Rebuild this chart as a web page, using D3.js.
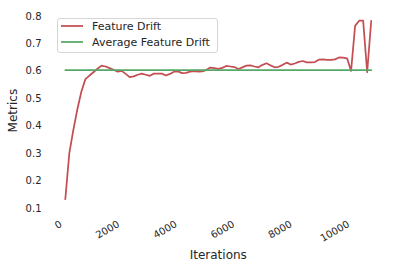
<!DOCTYPE html>
<html>
<head>
<meta charset="utf-8">
<script src="https://d3js.org/d3.v7.min.js"></script>
<style>
    body { margin: 0; background: #fff; }
    text { font-family: "DejaVu Sans", sans-serif; fill: #262626; }
</style>
</head>
<body>
<svg width="399" height="268"></svg>
<script>
let iterations = [220, 360, 500, 640, 780, 920, 1060, 1200, 1340, 1480,
    1620, 1760, 1900, 2040, 2180, 2320, 2460, 2600, 2740, 2880,
    3020, 3160, 3300, 3440, 3580, 3720, 3860, 4000, 4140, 4280,
    4420, 4560, 4700, 4840, 4980, 5120, 5260, 5400, 5540, 5680,
    5820, 5960, 6100, 6240, 6380, 6520, 6660, 6800, 6940, 7080,
    7220, 7360, 7500, 7640, 7780, 7920, 8060, 8200, 8340, 8480,
    8620, 8760, 8900, 9040, 9180, 9320, 9460, 9600, 9740, 9880,
    10020, 10160, 10300, 10440, 10580, 10720, 10860];

let featureDrift = [0.132, 0.300, 0.385, 0.460, 0.525, 0.570, 0.583, 0.595, 0.608, 0.619,
    0.616, 0.610, 0.604, 0.597, 0.600, 0.589, 0.577, 0.580, 0.586, 0.590,
    0.586, 0.582, 0.590, 0.590, 0.590, 0.583, 0.589, 0.597, 0.598, 0.592,
    0.593, 0.597, 0.599, 0.597, 0.598, 0.603, 0.612, 0.610, 0.607, 0.611,
    0.618, 0.616, 0.614, 0.607, 0.613, 0.619, 0.620, 0.616, 0.613, 0.622,
    0.628, 0.620, 0.613, 0.615, 0.622, 0.630, 0.623, 0.627, 0.633, 0.636,
    0.631, 0.631, 0.632, 0.641, 0.642, 0.640, 0.640, 0.642, 0.649, 0.648,
    0.646, 0.600, 0.764, 0.783, 0.783, 0.595, 0.782];

let averageDrift = 0.603;

let xTicks = [0, 2000, 4000, 6000, 8000, 10000];
let yTicks = [0.1, 0.2, 0.3, 0.4, 0.5, 0.6, 0.7, 0.8];
let legendLabels = ["Feature Drift", "Average Feature Drift"];

let svg = d3.select("svg"),
    margin = {top: 12.6, right: 12.5, bottom: 59.3, left: 50},
    width = +svg.attr("width") - margin.left - margin.right,
    height = +svg.attr("height") - margin.top - margin.bottom;

let red = "#c44e52",
    green = "#55a868";

let x = d3.scaleLinear()
    .domain([-312, 11392])
    .range([margin.left, margin.left + width]);

let y = d3.scaleLinear()
    .domain([0.0975, 0.8125])
    .range([margin.top + height, margin.top]);

let points = iterations.map(function (d, i) {
    return {it: d, value: featureDrift[i]};
});

// y tick labels, no tick marks (seaborn white style)
svg.append("g")
    .selectAll("text")
    .data(yTicks)
    .enter()
    .append("text")
    .attr("x", margin.left - 8.5)
    .attr("y", function (d) {
        return y(d);
    })
    .attr("dy", "0.36em")
    .attr("text-anchor", "end")
    .attr("font-size", "10px")
    .text(function (d) {
        return d.toFixed(1);
    });

// x tick labels rotated like autofmt_xdate
svg.append("g")
    .selectAll("text")
    .data(xTicks)
    .enter()
    .append("text")
    .attr("transform", function (d) {
        return "translate(" + x(d) + "," + 219.5 + ") rotate(-30)";
    })
    .attr("dy", "0.76em")
    .attr("text-anchor", "end")
    .attr("font-size", "10px")
    .text(function (d) {
        return d;
    });

svg.append("text")
    .attr("x", margin.left + width / 2)
    .attr("y", 259)
    .attr("text-anchor", "middle")
    .attr("font-size", "12px")
    .text("Iterations");

svg.append("text")
    .attr("transform", "translate(17," + (margin.top + height / 2) + ") rotate(-90)")
    .attr("text-anchor", "middle")
    .attr("font-size", "12px")
    .text("Metrics");

let lineGenerator = d3.line()
    .x(function (d) {
        return x(d.it);
    })
    .y(function (d) {
        return y(d.value);
    });

svg.append("path")
    .attr("fill", "none")
    .attr("stroke", red)
    .attr("stroke-width", 1.75)
    .attr("stroke-linejoin", "round")
    .attr("stroke-linecap", "round")
    .attr("d", lineGenerator(points));

svg.append("path")
    .attr("fill", "none")
    .attr("stroke", green)
    .attr("stroke-width", 1.75)
    .attr("stroke-linecap", "round")
    .attr("d", lineGenerator([
        {it: iterations[0], value: averageDrift},
        {it: iterations[iterations.length - 1], value: averageDrift}
    ]));

// legend
let legend = svg.append("g");

legend.append("rect")
    .attr("x", 57.5)
    .attr("y", 18.5)
    .attr("width", 160)
    .attr("height", 34)
    .attr("rx", 2.5)
    .attr("fill", "white")
    .attr("fill-opacity", 0.8)
    .attr("stroke", "#cccccc")
    .attr("stroke-width", 0.8);

legend.selectAll("line")
    .data(legendLabels)
    .enter()
    .append("line")
    .attr("x1", 61)
    .attr("x2", 83)
    .attr("y1", function (d, i) {
        return 26 + i * 16;
    })
    .attr("y2", function (d, i) {
        return 26 + i * 16;
    })
    .attr("stroke", function (d, i) {
        return i === 0 ? red : green;
    })
    .attr("stroke-width", 1.75);

legend.selectAll("text")
    .data(legendLabels)
    .enter()
    .append("text")
    .attr("x", 92)
    .attr("y", function (d, i) {
        return 26 + i * 16;
    })
    .attr("dy", "0.36em")
    .attr("font-size", "11px")
    .text(function (d) {
        return d;
    });
</script>
</body>
</html>
